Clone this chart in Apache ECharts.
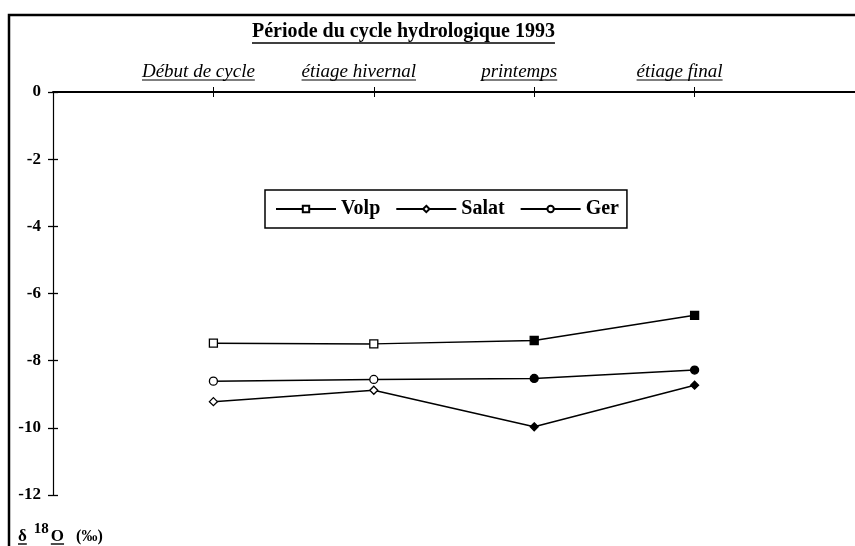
<!DOCTYPE html>
<html><head><meta charset="utf-8">
<script src="https://cdn.jsdelivr.net/npm/echarts@6/dist/echarts.min.js"></script>
<style>html,body{margin:0;padding:0;background:#fff}#c{width:855px;height:546px}</style>
</head><body><div id="c"></div>
<script>
// ---- data ----
const titleText = 'Période du cycle hydrologique 1993';
const periods = ['Début de cycle', 'étiage hivernal', 'printemps', 'étiage final'];
const yTicks = [0, -2, -4, -6, -8, -10, -12];
const seriesNames = ['Volp', 'Salat', 'Ger'];
const volp = [-7.48, -7.50, -7.40, -6.65];
const salat = [-9.22, -8.88, -9.97, -8.73];
const ger = [-8.61, -8.56, -8.53, -8.28];

// ---- rendering ----
const FONT = "'Liberation Serif', 'DejaVu Serif', serif";
const ctx = document.createElement('canvas').getContext('2d');
function tw(font, s) { ctx.font = font; return ctx.measureText(s).width; }

const xCats = [''].concat(periods, [' ']);
const yMin = Math.min(...yTicks), yMax = Math.max(...yTicks);

function mkData(vals) {
  return vals.map((v, i) => ({
    value: [periods[i], v],
    itemStyle: i >= 2 ? { color: '#000', borderColor: '#000' } : undefined
  }));
}
function mkSeries(name, vals, symbol, size) {
  return {
    name, type: 'line', data: mkData(vals), symbol, symbolSize: size,
    showAllSymbol: true,
    lineStyle: { color: '#000', width: 1.5 },
    itemStyle: { color: '#fff', borderColor: '#000', borderWidth: 1.3 },
    emphasis: { disabled: true }, animation: false, z: 5
  };
}

const chart = echarts.init(document.getElementById('c'), null, { renderer: 'canvas' });
const tickShow = (idx) => idx > 0 && idx < xCats.length - 1;
const titleFont = 'bold 20px ' + FONT;
const catFont = 'italic 19px ' + FONT;

const option = {
  backgroundColor: '#fff',
  animation: false,
  title: {
    text: titleText, left: 252, top: 22, padding: 0,
    textStyle: { fontFamily: FONT, fontWeight: 'bold', fontSize: 20, color: '#000' }
  },
  legend: {
    data: seriesNames, left: 265, top: 190, orient: 'horizontal',
    borderColor: '#000', borderWidth: 1.5, padding: [9, 8, 9, 10],
    itemWidth: 60, itemHeight: 8, itemGap: 15,
    textStyle: { fontFamily: FONT, fontWeight: 'bold', fontSize: 20, color: '#000' },
    selectedMode: false
  },
  grid: { left: 53, right: 0, top: 92, bottom: 51, containLabel: false },
  xAxis: [{
    type: 'category', position: 'top', data: xCats, boundaryGap: false,
    axisLine: { lineStyle: { color: '#000', width: 1.8 } },
    axisTick: { interval: tickShow, length: 5, lineStyle: { color: '#000', width: 1 } },
    axisLabel: { interval: 0, margin: 11, padding: [0, 30, 0, 0], fontFamily: FONT, fontStyle: 'italic', fontSize: 19, color: '#000' },
    splitLine: { show: false }
  }, {
    type: 'category', position: 'top', data: xCats, boundaryGap: false,
    axisLine: { show: false },
    axisTick: { inside: true, interval: tickShow, length: 5, lineStyle: { color: '#000', width: 1 } },
    axisLabel: { show: false }, splitLine: { show: false }
  }],
  yAxis: [{
    type: 'value', min: yMin, max: yMax, interval: 2, position: 'left',
    axisLine: { show: true, lineStyle: { color: '#000', width: 1.2 } },
    axisTick: { show: true, length: 5, lineStyle: { color: '#000', width: 1.3 } },
    axisLabel: { margin: 12, fontFamily: FONT, fontWeight: 'bold', fontSize: 17, color: '#000' },
    splitLine: { show: false }
  }, {
    type: 'value', min: yMin, max: yMax, interval: 2, position: 'left',
    axisLine: { show: false },
    axisTick: { show: true, inside: true, length: 5, lineStyle: { color: '#000', width: 1.3 } },
    axisLabel: { show: false }, splitLine: { show: false }
  }],
  series: [
    mkSeries('Volp', volp, 'rect', 8),
    mkSeries('Salat', salat, 'diamond', 8),
    mkSeries('Ger', ger, 'circle', 8)
  ]
};
chart.setOption(option);

// decorations: frame, underlines, axis unit label
const g = [];
g.push({ type: 'rect', shape: { x: 9, y: 15, width: 900, height: 600 },
  style: { fill: 'none', stroke: '#000', lineWidth: 2.5 }, silent: true, z: 100 });
function uline(x1, x2, y, w) {
  g.push({ type: 'line', shape: { x1, y1: y, x2, y2: y }, style: { stroke: '#000', lineWidth: w || 1.5 }, silent: true, z: 100 });
}
// title underline
uline(252, 252 + tw(titleFont, titleText), 43, 1.6);
// category underlines
periods.forEach((p) => {
  const x = chart.convertToPixel({ xAxisIndex: 0 }, p);
  const w = tw(catFont, p);
  const c = x - 15;
  uline(c - w / 2, c + w / 2, 80, 1.2);
});
// unit label: δ 18O (‰)
const bigF = 'bold 17px ' + FONT, supF = 'bold 15px ' + FONT, smF = 'bold 16px ' + FONT;
let ux = 18;
const baseY = 542;
function txt(s, font, x, bottomY) {
  g.push({ type: 'text', x, y: bottomY, silent: true, z: 100,
    style: { text: s, font, fill: '#000', verticalAlign: 'bottom', align: 'left' } });
}
txt('δ', bigF, ux, baseY + 3); uline(ux, ux + tw(bigF, 'δ'), 544, 1.4);
ux += tw(bigF, 'δ') + 7;
txt('18', supF, ux, baseY - 5);
ux += tw(supF, '18') + 2;
txt('O', bigF, ux, baseY + 3); uline(ux, ux + tw(bigF, 'O'), 544, 1.4);
ux += tw(bigF, 'O') + 12;
txt('(‰)', smF, ux, baseY + 3);
chart.setOption({ graphic: g });
</script>
</body></html>
